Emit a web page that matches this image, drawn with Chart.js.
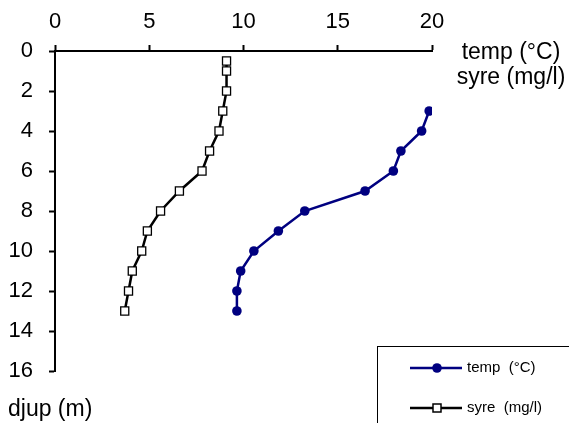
<!DOCTYPE html>
<html>
<head>
<meta charset="utf-8">
<script src="https://cdn.jsdelivr.net/npm/chart.js@4.4.1/dist/chart.umd.min.js"></script>
<style>
  html, body { margin: 0; padding: 0; background: #fff; }
  canvas { display: block; }
</style>
</head>
<body>
<canvas id="profil" width="569" height="423"></canvas>
<script>
// Temperatur- og oksygenprofil mot dyp

const tempDepth = [3, 4, 5, 6, 7, 8, 9, 10, 11, 12, 13];
const tempVals  = [19.85, 19.45, 18.35, 17.95, 16.45, 13.25, 11.85, 10.55, 9.85, 9.65, 9.65];

const syreDepth = [0.5, 1, 2, 3, 4, 5, 6, 7, 8, 9, 10, 11, 12, 13];
const syreVals  = [9.1, 9.1, 9.1, 8.9, 8.7, 8.2, 7.8, 6.6, 5.6, 4.9, 4.6, 4.1, 3.9, 3.7];

const xTicks = [0, 5, 10, 15, 20];
const yTicks = [0, 2, 4, 6, 8, 10, 12, 14, 16];

const FONT = '"Liberation Sans", Arial, sans-serif';
const NAVY = '#000080';

const toPoints = (xs, ys) => xs.map((v, i) => ({ x: v, y: ys[i] }));

// Tekster og forklaring tegnes selv
const extras = {
  id: 'extras',
  afterDraw(chart) {
    const ctx = chart.ctx;
    ctx.save();
    ctx.fillStyle = '#000';
    ctx.font = '23px ' + FONT;
    ctx.textAlign = 'center';
    ctx.textBaseline = 'middle';
    ctx.fillText('temp (°C)', 511, 53);
    ctx.fillText('syre (mg/l)', 511, 78);
    ctx.textAlign = 'left';
    ctx.fillText('djup (m)', 8, 410);

    // forklaringsboks
    ctx.strokeStyle = '#000';
    ctx.lineWidth = 1;
    ctx.strokeRect(377.5, 346.5, 300, 200);

    const ds = chart.data.datasets;
    const rows = [368, 408];
    ctx.font = '15px ' + FONT;
    rows.forEach((y, i) => {
      const d = ds[i];
      ctx.strokeStyle = d.borderColor;
      ctx.lineWidth = 2.5;
      ctx.beginPath();
      ctx.moveTo(410, y);
      ctx.lineTo(462, y);
      ctx.stroke();
      if (d.pointStyle === 'rect') {
        ctx.fillStyle = '#fff';
        ctx.lineWidth = 1.5;
        ctx.fillRect(433, y - 4, 8, 8);
        ctx.strokeRect(433, y - 4, 8, 8);
      } else {
        ctx.fillStyle = d.pointBackgroundColor;
        ctx.beginPath();
        ctx.arc(437, y, 4.8, 0, Math.PI * 2);
        ctx.fill();
      }
      ctx.fillStyle = '#000';
      ctx.textAlign = 'left';
      ctx.fillText(d.label, 467, y);
    });
    ctx.restore();
  }
};

new Chart(document.getElementById('profil'), {
  type: 'scatter',
  data: {
    datasets: [
      {
        label: 'temp  (°C)',
        data: toPoints(tempVals, tempDepth),
        showLine: true,
        borderColor: NAVY,
        borderWidth: 2.5,
        pointStyle: 'circle',
        pointRadius: 4.8,
        pointBackgroundColor: NAVY,
        pointBorderColor: NAVY,
        pointBorderWidth: 0
      },
      {
        label: 'syre  (mg/l)',
        data: toPoints(syreVals, syreDepth),
        showLine: true,
        borderColor: '#000',
        borderWidth: 2.5,
        pointStyle: 'rect',
        pointRadius: 5.7,
        pointBackgroundColor: '#fff',
        pointBorderColor: '#000',
        pointBorderWidth: 1.3
      }
    ]
  },
  options: {
    responsive: false,
    animation: false,
    devicePixelRatio: 1,
    layout: { padding: { left: 0, top: 0, right: 137, bottom: 52 } },
    plugins: { legend: { display: false }, tooltip: { enabled: false } },
    scales: {
      x: {
        position: 'top',
        min: 0, max: 20,
        afterBuildTicks: (s) => { s.ticks = xTicks.map(v => ({ value: v })); },
        afterFit: (s) => { s.height = 51; },
        grid: { drawOnChartArea: false, tickLength: 6, tickColor: '#000', tickWidth: 2 },
        border: { color: '#000', width: 2 },
        ticks: { color: '#000', font: { family: FONT, size: 22 }, padding: 10, maxRotation: 0 }
      },
      y: {
        reverse: true,
        min: 0, max: 16,
        afterBuildTicks: (s) => { s.ticks = yTicks.map(v => ({ value: v })); },
        afterFit: (s) => { s.width = 55; },
        grid: { drawOnChartArea: false, tickLength: 6, tickColor: '#000', tickWidth: 2 },
        border: { color: '#000', width: 2 },
        ticks: { color: '#000', font: { family: FONT, size: 22 }, padding: 16 }
      }
    }
  },
  plugins: [extras]
});
</script>
</body>
</html>
